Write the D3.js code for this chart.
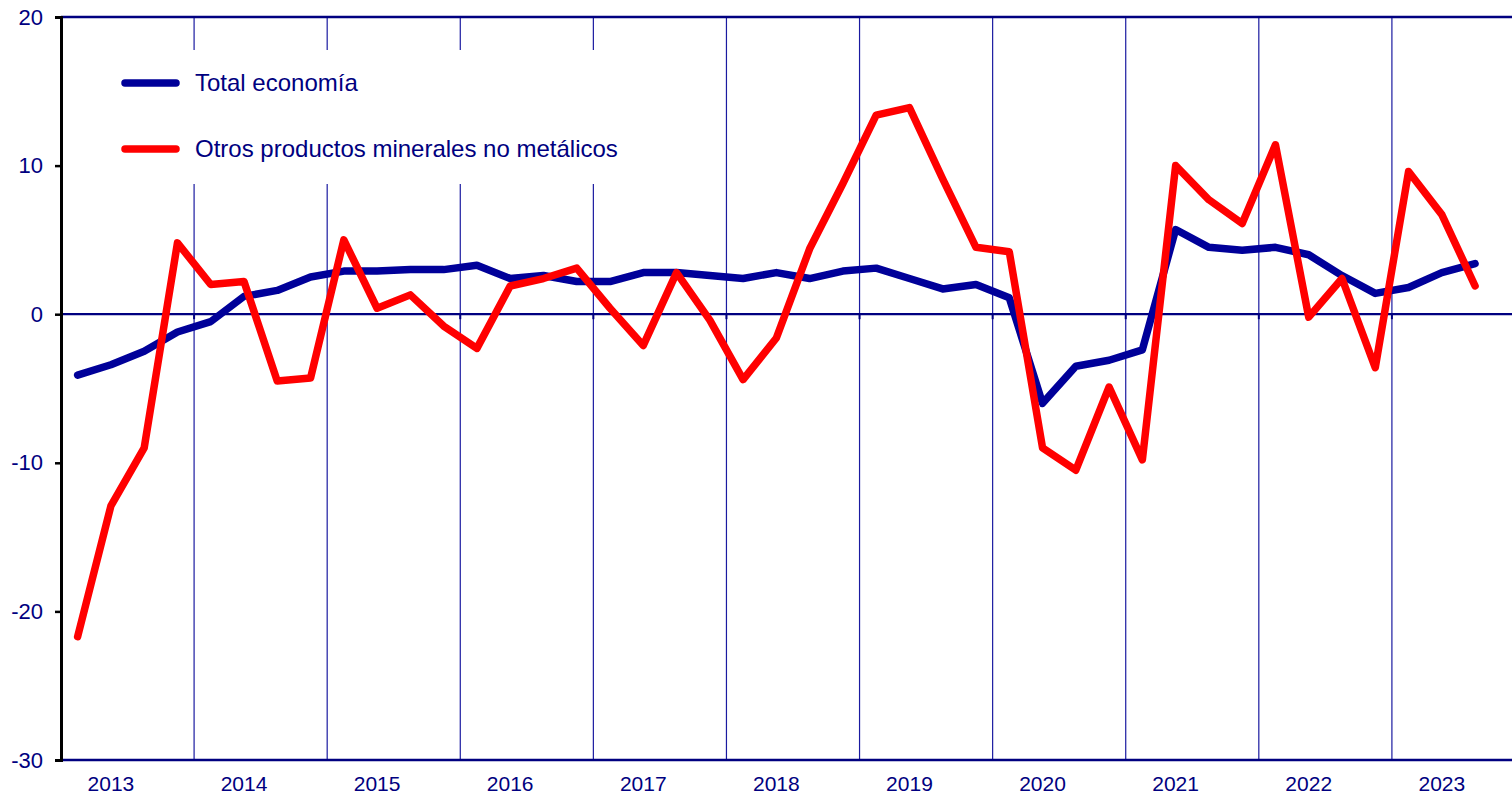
<!DOCTYPE html>
<html>
<head>
<meta charset="utf-8">
<script src="https://cdn.jsdelivr.net/npm/d3@7"></script>
<style>
  body { margin: 0; background: #fff; }
  text { font-family: "Liberation Sans", Arial, sans-serif; }
</style>
</head>
<body>
<svg id="chart"></svg>
<script>
// quarterly data, 2013Q1 .. 2023Q3
const years = [2013, 2014, 2015, 2016, 2017, 2018, 2019, 2020, 2021, 2022, 2023];
const yTicks = [20, 10, 0, -10, -20, -30];

const totalEconomia = [
  -4.1, -3.4, -2.5, -1.2, -0.5, 1.2, 1.6, 2.5, 2.9, 2.9, 3.0, 3.0,
  3.3, 2.4, 2.6, 2.2, 2.2, 2.8, 2.8, 2.6, 2.4, 2.8, 2.4, 2.9,
  3.1, 2.4, 1.7, 2.0, 1.1, -6.0, -3.5, -3.1, -2.4, 5.7, 4.5, 4.3,
  4.5, 4.0, 2.6, 1.4, 1.8, 2.8, 3.4
];
const minerales = [
  -21.7, -12.9, -9.0, 4.8, 2.0, 2.2, -4.5, -4.3, 5.0, 0.4, 1.3, -0.8,
  -2.3, 1.9, 2.4, 3.1, 0.4, -2.1, 2.8, -0.4, -4.4, -1.6, 4.4, 8.8,
  13.4, 13.9, 9.1, 4.5, 4.2, -9.0, -10.5, -4.9, -9.8, 10.0, 7.7, 6.1,
  11.4, -0.2, 2.4, -3.6, 9.6, 6.7, 1.9
];
const seriesNames = ["Total economía", "Otros productos minerales no metálicos"];
const seriesColors = ["#000099", "#ff0000"];

const config = {
  width: 1512, height: 798,
  margin: { top: 17, left: 61 },
  plotWidth: 1464, plotHeight: 743
};

const svg = d3.select("#chart")
  .attr("width", config.width)
  .attr("height", config.height);

const g = svg.append("g")
  .attr("transform", `translate(${config.margin.left},${config.margin.top})`);

const x = d3.scaleLinear().domain([0, 44]).range([0, config.plotWidth]);
const y = d3.scaleLinear().domain([-30, 20]).range([config.plotHeight, 0]);
const navy = "#000080";

// year gridlines
g.selectAll(".grid")
  .data(years.slice(1).map((d, i) => (i + 1) * 4))
  .join("line")
    .attr("class", "grid")
    .attr("x1", d => x(d)).attr("x2", d => x(d))
    .attr("y1", 0).attr("y2", config.plotHeight)
    .attr("stroke", "#1a1aa0")
    .attr("stroke-width", 1.2);

// legend box hides grid behind it
const legend = g.append("g");
legend.append("rect")
  .attr("x", 40).attr("y", 33)
  .attr("width", 580).attr("height", 134)
  .attr("fill", "#fff");

// zero line + year ticks on it
g.append("line")
  .attr("x1", 0).attr("x2", config.plotWidth)
  .attr("y1", y(0)).attr("y2", y(0))
  .attr("stroke", navy).attr("stroke-width", 2.2);
g.selectAll(".ztick")
  .data(years.slice(1).map((d, i) => (i + 1) * 4))
  .join("line")
    .attr("x1", d => x(d)).attr("x2", d => x(d))
    .attr("y1", y(0)).attr("y2", y(0) + 5)
    .attr("stroke", navy).attr("stroke-width", 2);

// top / bottom frame
g.append("line")
  .attr("x1", 0).attr("x2", config.plotWidth)
  .attr("y1", 0).attr("y2", 0)
  .attr("stroke", navy).attr("stroke-width", 2.5);
g.append("line")
  .attr("x1", 0).attr("x2", config.plotWidth)
  .attr("y1", config.plotHeight).attr("y2", config.plotHeight)
  .attr("stroke", navy).attr("stroke-width", 2.5);

// series
const line = d3.line()
  .x((d, i) => x(i + 0.5))
  .y(d => y(d));

[totalEconomia, minerales].forEach((s, k) => {
  g.append("path")
    .datum(s)
    .attr("fill", "none")
    .attr("stroke", seriesColors[k])
    .attr("stroke-width", 7.5)
    .attr("stroke-linejoin", "round")
    .attr("stroke-linecap", "round")
    .attr("d", line);
});

// left axis
const yAxis = g.append("g")
  .call(d3.axisLeft(y).tickValues(yTicks).tickSize(6).tickPadding(12).tickFormat(d => String(d)));
yAxis.select(".domain").attr("stroke", "#000").attr("stroke-width", 3);
yAxis.selectAll(".tick line").attr("stroke", "#000").attr("stroke-width", 2.5);
yAxis.selectAll(".tick text")
  .attr("fill", navy)
  .style("font-size", "22px")
  .attr("font-family", "Liberation Sans, Arial, sans-serif");

// year labels, under the second quarter of each year
g.selectAll(".ylabel")
  .data(years)
  .join("text")
    .attr("class", "ylabel")
    .attr("x", (d, i) => x(i * 4 + 1.5))
    .attr("y", config.plotHeight + 31)
    .attr("text-anchor", "middle")
    .attr("fill", navy)
    .style("font-size", "21px")
    .text(d => d);

// legend entries
seriesNames.forEach((name, k) => {
  const ly = 66 + k * 66;
  legend.append("line")
    .attr("x1", 64).attr("x2", 115)
    .attr("y1", ly).attr("y2", ly)
    .attr("stroke", seriesColors[k])
    .attr("stroke-width", 7.5)
    .attr("stroke-linecap", "round");
  legend.append("text")
    .attr("x", 134).attr("y", ly + 8)
    .attr("fill", navy)
    .style("font-size", "24px")
    .text(name);
});
</script>
</body>
</html>
